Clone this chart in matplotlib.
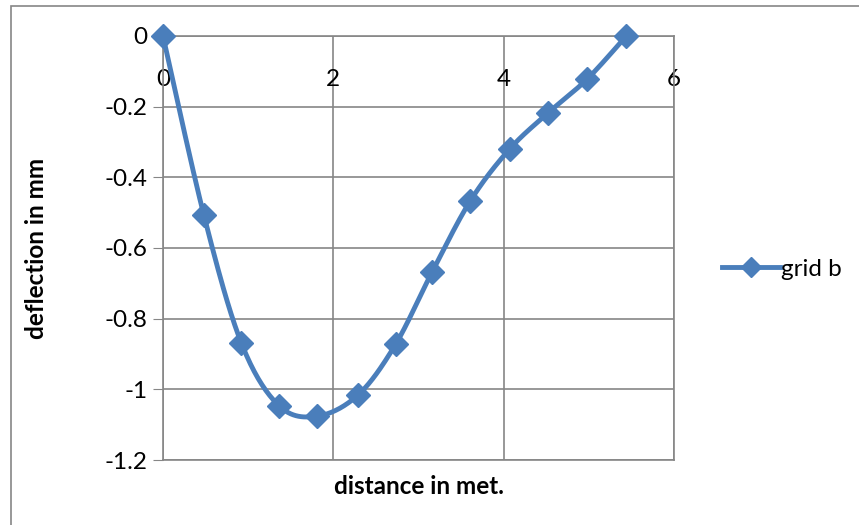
import numpy as np
import matplotlib.pyplot as plt
from matplotlib.patches import Rectangle

plt.rcParams['font.family'] = ['Lato', 'DejaVu Sans']

# deflection along the grid line
distance = [0, 0.48, 0.92, 1.36, 1.81, 2.29, 2.73, 3.16, 3.61, 4.07, 4.52, 4.98, 5.44]
deflection = [0, -0.507, -0.869, -1.046, -1.076, -1.016, -0.873, -0.668, -0.466, -0.320, -0.218, -0.122, 0]
series_name = "grid b"
x_ticks = [0, 2, 4, 6]
y_ticks = [0, -0.2, -0.4, -0.6, -0.8, -1, -1.2]

LINE = "#4A7EBB"
GRID = "#868686"
FS = 17.5


def smooth(xs, ys, n=30):
    # Catmull-Rom spline through the points, similar to a spreadsheet "smoothed line"
    x = np.asarray(xs, float)
    y = np.asarray(ys, float)
    px = np.concatenate([[x[0]], x, [x[-1]]])
    py = np.concatenate([[y[0]], y, [y[-1]]])
    out_x, out_y = [], []
    t = np.linspace(0, 1, n)
    for i in range(1, len(px) - 2):
        p0, p1, p2, p3 = (np.array([px[j], py[j]]) for j in range(i - 1, i + 3))
        m1 = (p2 - p0) / 2
        m2 = (p3 - p1) / 2
        h00 = 2 * t**3 - 3 * t**2 + 1
        h10 = t**3 - 2 * t**2 + t
        h01 = -2 * t**3 + 3 * t**2
        h11 = t**3 - t**2
        seg = np.outer(h00, p1) + np.outer(h10, m1) + np.outer(h01, p2) + np.outer(h11, m2)
        out_x.extend(seg[:, 0])
        out_y.extend(seg[:, 1])
    return out_x, out_y


fig = plt.figure(figsize=(8.59, 5.25), dpi=100)
fig.patches.append(Rectangle((11 / 859, -0.1), 1.2, 1 - 6 / 525 + 0.1, transform=fig.transFigure,
                             fill=False, edgecolor=GRID, linewidth=1.2))

ax = fig.add_axes([163 / 859, 1 - 460 / 525, 511 / 859, 424 / 525])
ax.set_xlim(0, 6)
ax.set_ylim(-1.2, 0)
ax.set_xticks(x_ticks)
ax.set_yticks(y_ticks)
ax.set_xticklabels([str(v) for v in x_ticks])
ax.set_yticklabels([f"{v:g}" for v in y_ticks])

ax.grid(True, color=GRID, linewidth=1.2)
ax.set_axisbelow(True)
for side in ["top", "bottom", "left", "right"]:
    ax.spines[side].set_color(GRID)
    ax.spines[side].set_linewidth(1.2)

# x axis crosses at y = 0, labels sit just below it
ax.xaxis.set_ticks_position("top")
ax.tick_params(axis="x", which="both", top=True, length=0, labeltop=True, labelbottom=False,
               pad=-24, labelsize=FS)
for lbl in ax.get_xticklabels():
    lbl.set_verticalalignment("top")
ax.tick_params(axis="y", length=7, color=GRID, labelsize=FS, pad=4)

sx, sy = smooth(distance, deflection)
ax.plot(sx, sy, color=LINE, linewidth=3.5, solid_capstyle="round", zorder=3)
ax.plot(distance, deflection, linestyle="none", marker="D", markersize=12,
        color=LINE, zorder=4, clip_on=False)

ax.set_ylabel("deflection in mm", fontsize=FS, fontweight="bold", va="center")
ax.yaxis.set_label_coords((37 - 163) / 511, 0.5)
ax.set_xlabel("distance in met.", fontsize=FS, fontweight="bold", va="center")
ax.xaxis.set_label_coords(0.5, (460 - 487) / 424)

ax.legend([plt.Line2D([], [], color=LINE, linewidth=3.5, marker="D", markersize=10)],
          [series_name], loc="center left", bbox_to_anchor=(1.07, 0.45), frameon=False,
          fontsize=FS, handlelength=2.4, handletextpad=0.05, borderpad=0)

fig.savefig("out.png", dpi=100)
